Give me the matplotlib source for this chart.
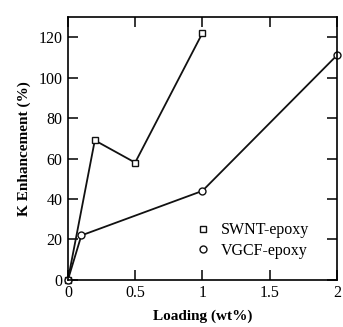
import matplotlib
matplotlib.use("Agg")
import matplotlib.pyplot as plt
from matplotlib.lines import Line2D

plt.rcParams['font.family'] = ['Liberation Serif', 'DejaVu Serif']

swnt_x = [0, 0.2, 0.5, 1.0]
swnt_y = [0, 69, 58, 122]
vgcf_x = [0, 0.1, 1.0, 2.0]
vgcf_y = [0, 22, 44, 111]

xticks = [0, 0.5, 1, 1.5, 2]
xticklabels = ['0', '0.5', '1', '1.5', '2']
yticks = [0, 20, 40, 60, 80, 100, 120]
labels = ['SWNT-epoxy', 'VGCF-epoxy']

fig = plt.figure(figsize=(3.43, 3.27), dpi=100)
ax = fig.add_axes([0.198, 0.144, 0.784, 0.804])

ax.plot(swnt_x, swnt_y, color='#111111', lw=1.3, marker='s', ms=5,
        mfc='white', mec='#111111', mew=1.0, clip_on=False)
ax.plot(vgcf_x, vgcf_y, color='#111111', lw=1.3, marker='o', ms=5,
        mfc='white', mec='#111111', mew=1.0, clip_on=False)

ax.set_xlim(0, 2)
ax.set_ylim(0, 130)
ax.set_xticks(xticks)
ax.set_xticklabels(xticklabels)
ax.set_yticks(yticks)
ax.tick_params(direction='in', top=True, right=True, length=7, width=1.1,
               labelsize=11.5, pad=4)
for s in ax.spines.values():
    s.set_linewidth(1.2)

ax.set_xlabel('Loading (wt%)', fontsize=11, fontweight='bold', labelpad=6)
ax.set_ylabel('K Enhancement (%)', fontsize=11, fontweight='bold', labelpad=5)

h2 = [Line2D([], [], ls='none', marker='s', ms=5, mfc='white', mec='#111111', mew=1.0),
      Line2D([], [], ls='none', marker='o', ms=5, mfc='white', mec='#111111', mew=1.0)]
ax.legend(h2, labels, loc='lower left', bbox_to_anchor=(0.42, 0.025), frameon=False,
          fontsize=11.5, handlelength=1.0, handletextpad=0.6, labelspacing=0.3)

fig.savefig('out.png', dpi=100)
